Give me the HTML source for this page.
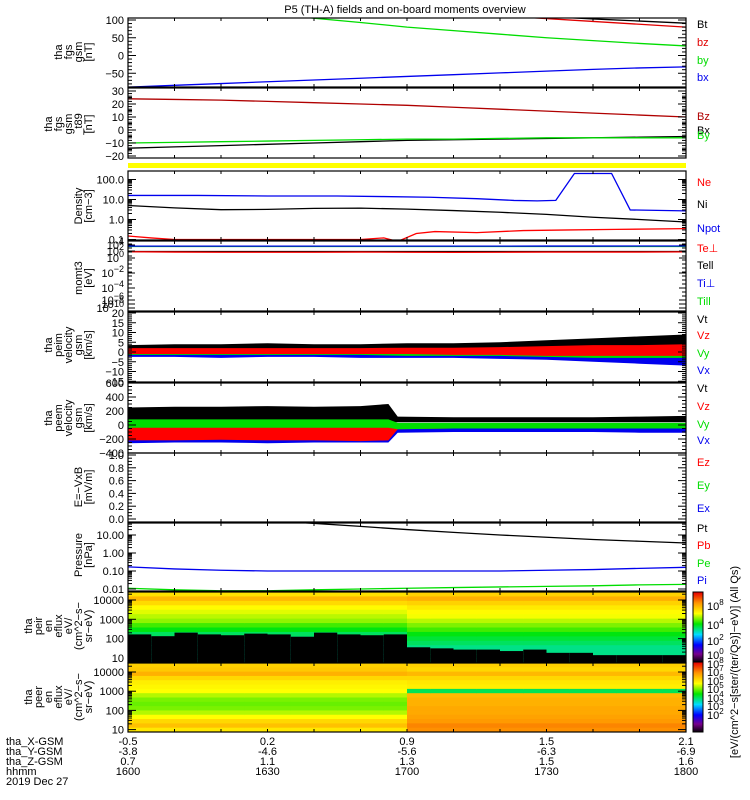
<!DOCTYPE html>
<html><head><meta charset="utf-8"><style>
html,body{margin:0;padding:0;background:#fff}
svg{display:block;font-family:"Liberation Sans",sans-serif}
text{font-size:11px}
</style></head><body>
<svg id="c" width="750" height="800" viewBox="0 0 750 800"></svg>
<script>
// ---- data ----
const tt=[0,10,20,30,40,50,60,70,80,90,100,110,120];
const fgsBx=[-89,-84,-79,-74,-69,-64,-59,-54,-49,-44,-39,-35,-32];
const fgsBy=[170,155,138,120,105,93,80,70,60,50,42,34,27];
const fgsBz=[190,175,160,148,138,128,120,115,112,104,96,88,80];
const fgsBt=[210,195,180,168,157,145,135,126,118,110,103,97,91];
const t89Bz=[24,23.5,23,22,21,20,19,17.5,16,14.5,13,11.5,10];
const t89Bx=[-14,-13,-12,-11,-10,-9,-8,-7.5,-7,-6.5,-6,-5.5,-5];
const t89By=[-10,-9.5,-9,-8.5,-8,-7.5,-7,-7,-6.5,-6,-6,-6,-6];
const densNi=[5,3.8,3.1,3.2,3.6,3.7,3.3,2.8,2.3,1.8,1.3,1,0.75];
const npotT=[0,15,30,45,55,65,75,83,88,92,96,104,108,120];
const npotV=[16,16,15,15,14,13,11,9,8.5,9,200,200,3,2.7];
const neT=[0,5,10,50,55,58,62,66,75,85,95,105,120];
const neV=[0.15,0.12,0.1,0.1,0.12,0.08,0.2,0.25,0.22,0.28,0.3,0.32,0.35];
const tempTiPerp=[2500,2500,2500,2500,2500,2500,2500,2500,2500,2600,2600,2700,2700];
const tempTiPar=[2000,2000,2000,2000,2000,2000,2000,2000,2000,2000,2000,2000,2000];
const tempTePerp=[60,50,45,45,45,50,45,40,45,50,50,50,55];
const tempTePar=[70,70,70,70,70,70,70,70,70,70,70,70,70];
const peimVtLo=[1,1,1,1,1,1.2,1.5,1.5,2,2,2.5,3,3];
const peimVtHi=[3.5,4,4,4.5,4,4,4.5,4.5,5,6,7,8,9];
const peimVzLo=[-1,-1,-1,-1,-1,-1,-1,-1.5,-1.5,-2,-2,-2,-2];
const peimVzHi=[2,2,2,2,2,2,2.2,2.2,2.5,3,3.5,3.5,4];
const peimVyLo=[-1.5,-1.5,-1.5,-1.5,-1.5,-1.5,-2,-2,-2,-2.5,-3,-3,-3];
const peimVyHi=[0.5,0.5,0.5,0.5,0.5,0.5,1,1,1,1,1.5,1.5,2];
const peimVxLo=[-2.5,-2.5,-3,-2.5,-2.5,-3,-3,-3,-3.5,-4,-5,-6,-7];
const peimVxHi=[0,0,0,0,0,0,0,0,0,0,0,0,0];
const peemT=[0,10,20,30,40,50,56,58,70,80,90,100,110,120];
const peemVtLo=[40,40,40,40,40,40,40,40,40,40,40,40,40,40];
const peemVtHi=[250,260,260,270,260,270,300,120,110,110,110,110,120,130];
const peemVzLo=[-220,-220,-210,-220,-220,-230,-220,-60,-50,-50,-50,-50,-50,-50];
const peemVzHi=[0,0,0,0,0,0,0,20,20,20,20,20,20,20];
const peemVyLo=[-40,-40,-40,-40,-40,-40,-40,-60,-50,-50,-50,-50,-50,-50];
const peemVyHi=[80,80,80,80,80,80,80,30,30,30,30,30,30,30];
const peemVxLo=[-260,-250,-250,-260,-250,-250,-250,-110,-100,-100,-100,-100,-110,-110];
const peemVxHi=[-50,-50,-50,-50,-50,-50,-50,-10,-10,-10,-10,-10,-10,-10];
const presT=[0,39,50,60,70,80,90,100,110,120];
const presPt=[200,46,30,20,14,10,7.5,5.6,4.5,3.6];
const presPi=[0.17,0.13,0.11,0.1,0.1,0.1,0.1,0.1,0.1,0.11,0.12,0.14,0.16];
const presPe=[0.011,0.009,0.008,0.008,0.009,0.01,0.011,0.012,0.013,0.014,0.015,0.017,0.018];
const peirBefore=[6.3,6.8,6.4,6.0,5.8,5.6,5.4,5.0,4.6,4.2,4.0,3.8,3.8,3.8,3.8,3.8];
const peirAfter=[6.5,6.9,6.5,6.2,6.0,5.9,5.6,5.3,5.0,4.6,4.4,4.2,4.0,4.0,4.0,4.0];
const peirCutT=[0,5,10,15,20,25,30,35,40,45,50,55,60,65,70,75,80,85,90,95,100,105,110,115];
const peirCutE=[200,160,250,200,180,220,200,150,250,200,180,200,40,35,30,30,25,30,20,20,15,15,15,15];
const peerBefore=[6.9,7.0,7.3,6.8,6.5,6.4,6.3,5.9,5.6,5.5,5.6,5.9,6.3,6.8,7.1,6.6];
const peerAfter=[6.9,6.8,7.2,6.8,6.6,6.5,4.5,7.2,7.3,7.3,7.4,7.4,7.5,7.6,7.8,7.7];
const ticksTime=["1600","1630","1700","1730","1800"];
const ticksX=["-0.5","0.2","0.9","1.5","2.1"];
const ticksY=["-3.8","-4.6","-5.6","-6.3","-6.9"];
const ticksZ=["0.7","1.1","1.3","1.5","1.6"];

// ---- helpers ----
const S=document.getElementById('c');const NS='http://www.w3.org/2000/svg';
const X0=128,X1=686;const xt=t=>X0+t*(X1-X0)/120;
function el(tag,attrs,parent){const e=document.createElementNS(NS,tag);for(const k in attrs)e.setAttribute(k,attrs[k]);(parent||S).appendChild(e);return e;}
function txt(x,y,s,o){o=o||{};const e=el('text',{x:x,y:y,'text-anchor':o.a||'start',fill:o.c||'#000','font-size':o.fs||11});e.textContent=s;return e;}
let clipN=0;
function clip(y0,y1){const id='cp'+(clipN++);const cp=el('clipPath',{id:id});el('rect',{x:X0,y:y0,width:X1-X0,height:y1-y0},cp);return 'url(#'+id+')';}
function line(ts,vs,f,color,y0,y1,name){const p=el('polyline',{points:ts.map((t,i)=>xt(t)+','+f(vs[i])).join(' '),fill:'none',stroke:color,'stroke-width':1.3,'clip-path':clip(y0,y1)});return p;}
function band(ts,lo,hi,f,color,y0,y1,name){const pts=ts.map((t,i)=>xt(t)+','+f(hi[i])).concat(ts.map((t,i)=>xt(t)+','+f(lo[i])).reverse());const p=el('polygon',{points:pts.join(' '),fill:color,'clip-path':clip(y0,y1)});return p;}
function frame(y0,y1,name){const r=el('rect',{x:X0,y:y0,width:X1-X0,height:y1-y0,fill:'none',stroke:'#000','stroke-width':1.2});
 for(let i=0;i<=12;i++){const x=X0+i*(X1-X0)/12;el('line',{x1:x,y1:y0,x2:x,y2:y0+3,stroke:'#000'});el('line',{x1:x,y1:y1,x2:x,y2:y1-3,stroke:'#000'});}}
function yticks(y0,y1,labels,f,minor){labels.forEach(l=>{const y=f(l[0]);el('line',{x1:X0,y1:y,x2:X0+8,y2:y,stroke:'#000'});el('line',{x1:X1,y1:y,x2:X1-8,y2:y,stroke:'#000'});if(l[1]!==null){const t=txt(X0-4,y+4,l[1],{a:'end',fs:12});}});
 (minor||[]).forEach(v=>{const y=f(v);if(y<y0||y>y1)return;el('line',{x1:X0,y1:y,x2:X0+4,y2:y,stroke:'#000'});el('line',{x1:X1,y1:y,x2:X1-4,y2:y,stroke:'#000'});});}
function logMinor(a,b){const r=[];for(let d=a;d<b;d++)for(let k=2;k<10;k++)r.push(k*Math.pow(10,d));return r;}
function leftLabel(lines,cy,xr,name){const g=el('g',{});const n=lines.length;lines.forEach((s,i)=>{const x=xr-(n-1-i)*10;const e=el('text',{x:x,y:cy,'text-anchor':'middle','font-size':12,transform:'rotate(-90 '+x+' '+cy+')'},g);e.textContent=s;});}
function rlab(y,s,c,name){const t=txt(697,y+4,s,{c:c,fs:11});}

const ti=txt(405,13,'P5 (TH-A) fields and on-board moments overview',{a:'middle',fs:12});

{const y0=18,y1=87,f=v=>55.5-v*0.355;
line(tt,fgsBt,f,'#000',y0,y1,'bt-line');line(tt,fgsBz,f,'#e00000',y0,y1,'bz-line');line(tt,fgsBy,f,'#00dd00',y0,y1,'by-line');line(tt,fgsBx,f,'#0000ee',y0,y1,'bx-line');
frame(y0,y1,'fgs-gsm-panel');yticks(y0,y1,[[100,'100'],[50,'50'],[0,'0'],[-50,'−50']],f,[90,80,70,60,40,30,20,10,-10,-20,-30,-40,-60,-70,-80]);
leftLabel(['tha','fgs','gsm','[nT]'],52,92,'fgs-gsm-y-title');
rlab(24,'Bt','#000','legend-bt');rlab(42,'bz','#e00000','legend-bz');rlab(60,'by','#00dd00','legend-by');rlab(77,'bx','#0000ee','legend-bx');}
{const y0=88,y1=158,f=v=>130-v*1.3;
line(tt,t89Bz,f,'#b00000',y0,y1,'t89-bz-line');line(tt,t89Bx,f,'#000',y0,y1,'t89-bx-line');line(tt,t89By,f,'#00dd00',y0,y1,'t89-by-line');
frame(y0,y1,'fgs-t89-panel');yticks(y0,y1,[[30,'30'],[20,'20'],[10,'10'],[0,'0'],[-10,'−10'],[-20,'−20']],f,[25,15,5,-5,-15,28,26,24,22,18,16,14,12,8,6,4,2,-2,-4,-6,-8,-12,-14,-16,-18,-22]);
leftLabel(['tha','fgs','gsm','_t89','[nT]'],124,92,'fgs-t89-y-title');
rlab(116,'Bz','#b00000','legend-t89-bz');rlab(130,'Bx','#000','legend-t89-bx');rlab(135,'By','#00dd00','legend-t89-by');}
{const r=el('rect',{x:X0,y:163,width:X1-X0,height:5,fill:'#ffff00'});}
{const y0=171,y1=240,f=v=>219.5-20*Math.log10(v);
line(tt,densNi,f,'#000',y0,y1,'ni-line');line(npotT,npotV,f,'#0000ee',y0,y1,'npot-line');line(neT,neV,f,'#ff0000',y0,y1,'ne-line');
frame(y0,y1,'density-panel');yticks(y0,y1,[[100,'100.0'],[10,'10.0'],[1,'1.0'],[0.1,'0.1']],f,logMinor(-1,2));
leftLabel(['Density','[cm−3]'],206,92,'density-y-title');
rlab(182,'Ne','#ff0000','legend-ne');rlab(204,'Ni','#000','legend-ni');rlab(228,'Npot','#0000ee','legend-npot');}
{const y0=241,y1=311,f=v=>258-3.5*Math.log10(v);
line(tt,tempTePar,f,'#000',y0,y1,'te-par-line');line(tt,tempTePerp,f,'#ff0000',y0,y1,'te-perp-line');line(tt,tempTiPar,f,'#00dd00',y0,y1,'ti-par-line');line(tt,tempTiPerp,f,'#0000ee',y0,y1,'ti-perp-line');
frame(y0,y1,'momt3-panel');
const tl=[[245,'4'],[251,'2'],[258,'0'],[273,'−2'],[288,'−4'],[300,'−6'],[304,'−8'],[308,'−10']];
tl.forEach(l=>{el('line',{x1:X0,y1:l[0],x2:X0+7,y2:l[0],stroke:'#000'});el('line',{x1:X1,y1:l[0],x2:X1-7,y2:l[0],stroke:'#000'});const t=el('text',{x:X0-4,y:l[0]+4,'text-anchor':'end','font-size':12});t.innerHTML='10<tspan dy="-5" font-size="9">'+l[1]+'</tspan>';});
for(let y=244;y<311;y+=4){el('line',{x1:X1,y1:y,x2:X1-4,y2:y,stroke:'#000'});el('line',{x1:X0,y1:y,x2:X0+4,y2:y,stroke:'#000'});}
leftLabel(['momt3','[eV]'],278,92,'momt3-y-title');
rlab(248,'Te⊥','#ff0000','legend-te-perp');rlab(265,'Tell','#000','legend-te-par');rlab(283,'Ti⊥','#0000ee','legend-ti-perp');rlab(301,'Till','#00dd00','legend-ti-par');}
{const y0=312,y1=382,f=v=>352-v*1.95;
band(tt,peimVtLo,peimVtHi,f,'#000',y0,y1,'peim-vt-band');band(tt,peimVxLo,peimVxHi,f,'#0000ee',y0,y1,'peim-vx-band');band(tt,peimVyLo,peimVyHi,f,'#00dd00',y0,y1,'peim-vy-band');band(tt,peimVzLo,peimVzHi,f,'#ff0000',y0,y1,'peim-vz-band');
frame(y0,y1,'peim-velocity-panel');yticks(y0,y1,[[20,'20'],[15,'15'],[10,'10'],[5,'5'],[0,'0'],[-5,'−5'],[-10,'−10'],[-15,'−15']],f,[19,18,17,16,14,13,12,11,9,8,7,6,4,3,2,1,-1,-2,-3,-4,-6,-7,-8,-9,-11,-12,-13,-14]);
leftLabel(['tha','peim','velocity','gsm','[km/s]'],345,92,'peim-y-title');
rlab(319,'Vt','#000','legend-peim-vt');rlab(335,'Vz','#ff0000','legend-peim-vz');rlab(353,'Vy','#00dd00','legend-peim-vy');rlab(370,'Vx','#0000ee','legend-peim-vx');}
{const y0=383,y1=453,f=v=>425-v*0.07;
band(peemT,peemVtLo,peemVtHi,f,'#000',y0,y1,'peem-vt-band');band(peemT,peemVxLo,peemVxHi,f,'#0000ee',y0,y1,'peem-vx-band');band(peemT,peemVzLo,peemVzHi,f,'#ff0000',y0,y1,'peem-vz-band');band(peemT,peemVyLo,peemVyHi,f,'#00dd00',y0,y1,'peem-vy-band');
frame(y0,y1,'peem-velocity-panel');yticks(y0,y1,[[600,'600'],[400,'400'],[200,'200'],[0,'0'],[-200,'−200'],[-400,'−400']],f,[550,500,450,350,300,250,150,100,50,-50,-100,-150,-250,-300,-350]);
leftLabel(['tha','peem','velocity','gsm','[km/s]'],418,92,'peem-y-title');
rlab(388,'Vt','#000','legend-peem-vt');rlab(406,'Vz','#ff0000','legend-peem-vz');rlab(424,'Vy','#00dd00','legend-peem-vy');rlab(440,'Vx','#0000ee','legend-peem-vx');}
{const y0=453,y1=522,f=v=>519-v*64;
frame(y0,y1,'efield-panel');yticks(y0,y1,[[1,'1.0'],[0.8,'0.8'],[0.6,'0.6'],[0.4,'0.4'],[0.2,'0.2'],[0,'0.0']],f,[0.9,0.7,0.5,0.3,0.1,0.95,0.85,0.75,0.65,0.55,0.45,0.35,0.25,0.15,0.05]);
leftLabel(['E=−VxB','[mV/m]'],487,92,'efield-y-title');
rlab(462,'Ez','#ff0000','legend-ez');rlab(485,'Ey','#00dd00','legend-ey');rlab(508,'Ex','#0000ee','legend-ex');}
{const y0=523,y1=591,f=v=>553-18*Math.log10(v);
line(presT,presPt,f,'#000',y0,y1,'pt-line');line(tt,presPi,f,'#0000ee',y0,y1,'pi-line');line(tt,presPe,f,'#00dd00',y0,y1,'pe-line');
frame(y0,y1,'pressure-panel');yticks(y0,y1,[[10,'10.00'],[1,'1.00'],[0.1,'0.10'],[0.01,'0.01']],f,logMinor(-2,2));
leftLabel(['Pressure','[nPa]'],555,92,'pressure-y-title');
rlab(528,'Pt','#000','legend-pt');rlab(545,'Pb','#ff0000','legend-pb');rlab(563,'Pe','#00dd00','legend-pe');rlab(580,'Pi','#0000ee','legend-pi');}

const stops=[[0,[0,0,0]],[0.12,[120,0,140]],[0.25,[0,0,255]],[0.4,[0,220,255]],[0.55,[0,230,0]],[0.7,[255,255,0]],[0.85,[255,150,0]],[1,[230,0,0]]];
function cmap(u){u=Math.max(0,Math.min(1,u));for(let i=1;i<stops.length;i++){if(u<=stops[i][0]){const a=stops[i-1],b=stops[i],k=(u-a[0])/(b[0]-a[0]);return 'rgb('+a[1].map((c,j)=>Math.round(c+(b[1][j]-c)*k)).join(',')+')';}}return 'rgb(230,0,0)';}
function spectro(y0,y1,before,after,vmin,vmax,cutT,cutE,eTop,eBot,name){const g=el('g',{});const n=before.length,h=(y1-y0)/n;
 const yE=e=>y0+(eTop-Math.log10(e))/(eTop-eBot)*(y1-y0);
 for(let c=0;c<24;c++){const t0=c*5,arr=t0<57?before:after;for(let r=0;r<n;r++){const col=cmap((arr[r]-vmin)/(vmax-vmin));el('rect',{x:xt(t0),y:y0+r*h,width:xt(t0+5)-xt(t0)+0.5,height:h+0.5,fill:col},g);}
  if(cutE){const yc=yE(cutE[c]);el('rect',{x:xt(cutT[c]),y:yc,width:xt(cutT[c]+5)-xt(cutT[c])+0.5,height:y1-yc,fill:'#000'},g);}}}
{const y0=592,y1=663;spectro(y0,y1,peirBefore,peirAfter,0,8.5,peirCutT,peirCutE,4.6,0.75,'peir-spectrogram');
const f=e=>600+(4-Math.log10(e))*19.3;frame(y0,y1,'peir-panel');yticks(y0,y1,[[10000,'10000'],[1000,'1000'],[100,'100'],[10,'10']],f,logMinor(1,4).concat([20000]));
leftLabel(['tha','peir','en','eflux','eV/','(cm^2−s−','sr−eV)'],626,92,'peir-y-title');}
{const y0=663,y1=732;spectro(y0,y1,peerBefore,peerAfter,0,9,null,null,4.45,0.85,'peer-spectrogram');
const f=e=>672+(4-Math.log10(e))*19.2;frame(y0,y1,'peer-panel');yticks(y0,y1,[[10000,'10000'],[1000,'1000'],[100,'100'],[10,'10']],f,logMinor(1,4).concat([20000]));
leftLabel(['tha','peer','en','eflux','eV/','(cm^2−s−','sr−eV)'],697,92,'peer-y-title');}
{const g=el('g',{});
 for(let i=0;i<70;i++){el('rect',{x:693,y:592+i,width:10,height:1.2,fill:cmap(1-i/70)},g);el('rect',{x:693,y:662+i,width:10,height:1.2,fill:cmap(1-i/70)},g);}
 el('rect',{x:693,y:592,width:10,height:140,fill:'none',stroke:'#000'},g);el('line',{x1:693,y1:662,x2:703,y2:662,stroke:'#000'},g);
 [[606,'8'],[625,'4'],[641,'2'],[655,'0'],[664,'8'],[672,'7'],[681,'6'],[689,'5'],[698,'4'],[706,'3'],[715,'2']].forEach(l=>{const t=el('text',{x:707,y:l[0]+4,'font-size':12},g);t.innerHTML='10<tspan dy="-5" font-size="8">'+l[1]+'</tspan>';});
 const cl=el('text',{x:738,y:662,'text-anchor':'middle','font-size':11,transform:'rotate(-90 738 662)'});cl.textContent='[eV/(cm^2−s[ster/(ter/Qs)]−eV)] (All Qs)';}
{const rows=[['tha_X-GSM',ticksX,745],['tha_Y-GSM',ticksY,755],['tha_Z-GSM',ticksZ,765],['hhmm',ticksTime,775]];
 rows.forEach(r=>{const t=txt(6,r[2],r[0],{fs:11});
  r[1].forEach((s,i)=>{const k=txt(X0+i*(X1-X0)/4,r[2],s,{a:'middle',fs:12});});});
 const d=txt(6,785,'2019 Dec 27',{fs:11});}
</script>
</body></html>
